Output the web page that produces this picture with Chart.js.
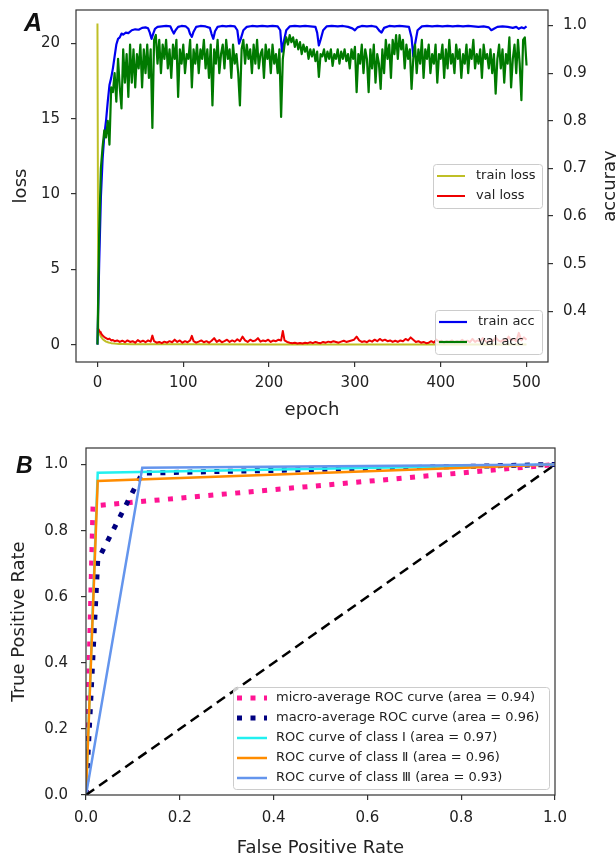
<!DOCTYPE html>
<html><head><meta charset="utf-8">
<script src="https://cdn.jsdelivr.net/npm/chart.js@4.4.1/dist/chart.umd.min.js"></script>
<style>
html,body{margin:0;padding:0;background:#fff;width:616px;height:857px;overflow:hidden}
#wa{position:absolute;left:0;top:0;width:616px;height:430px}
#wb{position:absolute;left:0;top:430px;width:616px;height:427px}
canvas{display:block}
</style></head><body>
<div id="wa"><canvas id="ca" width="616" height="430" style="width:616px;height:430px"></canvas></div>
<div id="wb"><canvas id="cb" width="616" height="427" style="width:616px;height:427px"></canvas></div>
<script>
// ---------------- Panel A data ----------------
const epochTicks = [0, 100, 200, 300, 400, 500];
const lossTicks = [0, 5, 10, 15, 20];
const accTicks = [0.4, 0.5, 0.6, 0.7, 0.8, 0.9, 1.0];

const trainLossEpochs = [0, 1, 2, 4, 6, 8, 10, 13, 16, 20, 25, 30, 40, 60, 100, 200, 300, 400, 500];
const trainLoss = [21.3, 1.0, 0.8, 0.55, 0.4, 0.3, 0.22, 0.16, 0.12, 0.09, 0.07, 0.06, 0.05, 0.045, 0.04, 0.035, 0.03, 0.03, 0.03];

const valLossEpochs = [0,1,2,3,4,6,8,10,12,14,16,18,20,23,26,29,32,35,38,41,44,47,50,53,56,59,62,64,66,69,72,75,78,81,84,87,90,93,96,99,102,105,108,110,112,115,118,121,124,127,130,133,136,139,142,145,148,151,154,157,160,163,166,169,172,175,178,181,184,187,190,193,196,199,202,205,208,211,214,216,218,221,224,227,230,233,236,239,242,245,248,251,254,257,260,263,266,269,272,275,278,281,284,287,290,293,296,299,302,305,308,311,314,317,320,323,326,329,332,335,338,341,344,347,350,353,356,359,362,365,368,371,374,377,380,383,386,389,392,395,398,401,404,407,410,413,416,419,422,425,428,431,434,437,440,443,446,449,452,455,458,461,464,467,470,473,476,479,482,485,488,491,494,497,500];
const valLoss = [1.12,1.05,0.95,0.85,0.78,0.62,0.52,0.45,0.38,0.42,0.3,0.33,0.25,0.3,0.2,0.28,0.18,0.3,0.2,0.25,0.15,0.32,0.2,0.28,0.18,0.3,0.22,0.62,0.25,0.15,0.2,0.12,0.22,0.15,0.25,0.18,0.35,0.2,0.3,0.15,0.25,0.18,0.3,0.6,0.25,0.15,0.22,0.3,0.18,0.25,0.15,0.28,0.45,0.2,0.32,0.18,0.25,0.35,0.2,0.3,0.22,0.38,0.25,0.55,0.3,0.2,0.35,0.25,0.3,0.45,0.22,0.3,0.25,0.35,0.2,0.3,0.25,0.35,0.3,0.93,0.3,0.2,0.15,0.12,0.15,0.1,0.13,0.1,0.15,0.12,0.18,0.12,0.2,0.15,0.12,0.2,0.15,0.22,0.18,0.25,0.2,0.15,0.22,0.28,0.2,0.25,0.3,0.35,0.55,0.3,0.2,0.25,0.18,0.3,0.22,0.35,0.25,0.4,0.28,0.35,0.25,0.3,0.2,0.28,0.2,0.3,0.25,0.4,0.3,0.5,0.35,0.2,0.25,0.15,0.2,0.12,0.15,0.25,0.15,0.35,0.2,0.28,0.15,0.25,0.2,0.3,0.18,0.25,0.2,0.35,0.2,0.28,0.18,0.4,0.2,0.3,0.22,0.45,0.25,0.2,0.35,0.25,0.5,0.3,0.22,0.35,0.25,0.55,0.3,0.4,0.25,0.8,0.3,0.5,0.35];

const trainAccEpochs = [0,2,4,6,8,10,12,14,16,18,20,22,24,26,28,30,33,36,40,44,48,52,56,59,61,63,65,67,70,75,80,85,87,89,91,94,98,103,106,108,110,112,115,120,126,131,133,135,137,140,145,150,155,160,163,165,167,170,174,180,186,192,198,204,210,213,215,217,220,224,230,236,242,248,254,256,258,260,263,267,273,280,286,292,297,300,303,308,314,320,325,329,331,334,340,346,352,358,363,366,368,370,373,378,384,390,396,402,408,414,420,426,432,438,444,450,456,459,462,466,472,478,484,488,491,494,497,500];
const trainAcc = [0.33,0.50,0.64,0.72,0.77,0.80,0.84,0.875,0.89,0.91,0.935,0.96,0.972,0.975,0.983,0.981,0.985,0.984,0.99,0.992,0.991,0.995,0.996,0.994,0.985,0.972,0.983,0.993,0.997,0.998,0.999,0.998,0.99,0.983,0.99,0.997,0.999,0.998,0.993,0.982,0.976,0.987,0.997,0.999,0.998,0.995,0.982,0.972,0.988,0.997,0.999,0.998,0.999,0.998,0.99,0.962,0.972,0.99,0.997,0.999,0.998,0.999,0.998,0.999,0.998,0.99,0.945,0.965,0.99,0.998,0.999,0.998,0.999,0.998,0.997,0.985,0.958,0.97,0.99,0.998,0.999,0.998,0.999,0.997,0.994,0.99,0.996,0.999,0.998,0.999,0.997,0.988,0.985,0.995,0.999,0.998,0.999,0.998,0.997,0.975,0.935,0.96,0.99,0.998,0.999,0.998,0.999,0.998,0.999,0.998,0.999,0.998,0.999,0.998,0.997,0.998,0.996,0.99,0.993,0.997,0.998,0.997,0.995,0.997,0.993,0.996,0.994,0.998];

// val acc, one value every 2 epochs (epoch 0 .. 500)
const valAcc = [
0.33,0.56,0.70,0.745,0.78,0.765,0.80,0.75,0.87,0.86,0.90,0.84,0.93,0.87,0.826,0.95,0.88,0.94,0.85,0.96,
0.88,0.95,0.87,0.94,0.91,0.96,0.87,0.95,0.90,0.96,0.89,0.95,0.785,0.97,0.98,0.92,0.97,0.90,0.96,0.93,
0.97,0.91,0.95,0.89,0.96,0.93,0.97,0.85,0.95,0.92,0.96,0.90,0.94,0.93,0.97,0.87,0.95,0.92,0.96,0.90,
0.95,0.93,0.97,0.91,0.95,0.89,0.96,0.832,0.95,0.92,0.97,0.90,0.94,0.96,0.91,0.97,0.93,0.95,0.89,0.96,
0.92,0.94,0.90,0.832,0.95,0.97,0.92,0.96,0.93,0.95,0.90,0.96,0.92,0.97,0.91,0.94,0.95,0.89,0.96,0.93,
0.95,0.90,0.96,0.92,0.94,0.90,0.95,0.808,0.93,0.96,0.975,0.96,0.98,0.965,0.975,0.955,0.97,0.95,0.965,0.94,
0.96,0.945,0.955,0.93,0.95,0.935,0.95,0.925,0.945,0.892,0.94,0.935,0.95,0.925,0.945,0.93,0.95,0.915,0.94,0.93,
0.95,0.92,0.945,0.93,0.95,0.925,0.94,0.91,0.95,0.93,0.955,0.86,0.94,0.92,0.96,0.90,0.95,0.93,0.86,0.95,
0.91,0.96,0.88,0.94,0.92,0.867,0.95,0.90,0.97,0.93,0.96,0.89,0.97,0.94,0.98,0.93,0.98,0.95,0.97,0.91,
0.96,0.93,0.95,0.867,0.93,0.96,0.90,0.95,0.92,0.97,0.89,0.95,0.93,0.96,0.90,0.94,0.92,0.96,0.88,0.94,
0.93,0.96,0.89,0.95,0.91,0.97,0.92,0.94,0.90,0.96,0.93,0.95,0.89,0.94,0.92,0.96,0.90,0.95,0.93,0.97,
0.91,0.94,0.92,0.95,0.89,0.96,0.93,0.94,0.91,0.95,0.90,0.94,0.857,0.93,0.96,0.91,0.95,0.88,0.94,0.92,
0.975,0.87,0.93,0.96,0.90,0.97,0.92,0.843,0.97,0.975,0.916];
const valAccEpochs = valAcc.map((_, i) => i * 2);

// ---------------- Panel B data ----------------
const rateTicks = [0, 0.2, 0.4, 0.6, 0.8, 1.0];
const microFpr = [0, 0.015, 1];
const microTpr = [0, 0.875, 1];
const macroFpr = [0, 0.025, 0.12, 1];
const macroTpr = [0, 0.71, 0.974, 1];
const class1Fpr = [0, 0.025, 1];
const class1Tpr = [0, 0.975, 1];
const class2Fpr = [0, 0.025, 1];
const class2Tpr = [0, 0.95, 1];
const class3Fpr = [0, 0.12, 1];
const class3Tpr = [0, 0.99, 1];
const chanceFpr = [0, 1];
const chanceTpr = [0, 1];

// ---------------- helpers ----------------
const FONT = "'DejaVu Sans', 'Noto Sans CJK SC', sans-serif";
Chart.defaults.font.family = FONT;
Chart.defaults.color = '#222';
const pts = (xs, ys) => xs.map((x, i) => ({x: x, y: ys[i]}));
const setTicks = vals => (s => { s.ticks = vals.map(v => ({value: v})); });
const fitY = w => (s => { s.width = w; s.paddingTop = 0; s.paddingBottom = 0; });
const fitX = h => (s => { s.height = h; s.paddingLeft = 0; s.paddingRight = 0; });

function drawLegend(ctx, x, y, w, h, rows, lineX0, lineX1, textX) {
  ctx.save();
  ctx.beginPath();
  if (ctx.roundRect) ctx.roundRect(x + 0.5, y + 0.5, w, h, 3); else ctx.rect(x + 0.5, y + 0.5, w, h);
  ctx.fillStyle = 'rgba(255,255,255,0.8)';
  ctx.fill();
  ctx.strokeStyle = '#cccccc';
  ctx.lineWidth = 1;
  ctx.stroke();
  rows.forEach(r => {
    ctx.beginPath();
    ctx.setLineDash(r.dash || []);
    ctx.lineCap = 'butt';
    ctx.strokeStyle = r.color;
    ctx.lineWidth = r.width;
    ctx.moveTo(x + lineX0, r.y);
    ctx.lineTo(x + lineX1, r.y);
    ctx.stroke();
    ctx.setLineDash([]);
    ctx.fillStyle = '#222';
    ctx.font = '13px ' + FONT;
    ctx.textAlign = 'left';
    ctx.textBaseline = 'middle';
    ctx.fillText(r.label, x + textX, r.y);
  });
  ctx.restore();
}
function frame(chart) {
  const {ctx, chartArea: ca} = chart;
  ctx.save();
  ctx.strokeStyle = '#333';
  ctx.lineWidth = 1.2;
  ctx.strokeRect(ca.left, ca.top, ca.right - ca.left, ca.bottom - ca.top);
  ctx.restore();
}
function rowsFor(chart, labels, y0, dy) {
  return labels.map((lab, i) => {
    const ds = chart.data.datasets.find(d => d.label === lab);
    return {label: lab, color: ds.borderColor, width: ds.borderWidth, dash: ds.borderDash, y: y0 + i * dy};
  });
}

const axisCommon = {
  grid: {display: true, drawOnChartArea: false, drawTicks: true, tickLength: 5, color: '#333', lineWidth: 1.2},
  border: {display: false}
};

// ---------------- Chart A ----------------
const pluginA = {
  id: 'pluginA',
  afterDatasetsDraw(chart) {
    const ca = chart.chartArea;
    const ctx = chart.ctx;
    const w1 = 109, h1 = 44;
    const x1 = ca.right - 6 - w1, y1 = (ca.top + ca.bottom) / 2 - h1 / 2;
    drawLegend(ctx, x1, y1, w1, h1, rowsFor(chart, ['train loss', 'val loss'], y1 + 12, 20), 4, 32, 43);
    const w2 = 107, h2 = 44;
    const x2 = ca.right - 6 - w2, y2 = ca.bottom - 8 - h2;
    drawLegend(ctx, x2, y2, w2, h2, rowsFor(chart, ['train acc', 'val acc'], y2 + 12, 20), 4, 32, 43);
  },
  afterDraw(chart) {
    frame(chart);
    const ctx = chart.ctx;
    ctx.save();
    ctx.fillStyle = '#111';
    ctx.font = "bold italic 25px 'Liberation Sans', Arial, sans-serif";
    ctx.textBaseline = 'alphabetic';
    ctx.textAlign = 'left';
    ctx.fillText('A', 24, 31);
    ctx.translate(615, (chart.chartArea.top + chart.chartArea.bottom) / 2);
    ctx.rotate(-Math.PI / 2);
    ctx.font = '18px ' + FONT;
    ctx.fillStyle = '#222';
    ctx.textAlign = 'center';
    ctx.fillText('accuray', 0, 0);
    ctx.restore();
  }
};

new Chart(document.getElementById('ca'), {
  type: 'line',
  data: {
    datasets: [
      {label: 'train loss', data: pts(trainLossEpochs, trainLoss), yAxisID: 'y', borderColor: '#bfbf26', borderWidth: 2, order: 4},
      {label: 'val loss', data: pts(valLossEpochs, valLoss), yAxisID: 'y', borderColor: '#ee0000', borderWidth: 2, order: 3},
      {label: 'train acc', data: pts(trainAccEpochs, trainAcc), yAxisID: 'y1', borderColor: '#0000f0', borderWidth: 2.2, order: 2},
      {label: 'val acc', data: pts(valAccEpochs, valAcc), yAxisID: 'y1', borderColor: '#007a00', borderWidth: 2.2, order: 1}
    ]
  },
  options: {
    responsive: false, animation: false, devicePixelRatio: 1,
    elements: {point: {radius: 0}, line: {tension: 0, borderJoinStyle: 'round'}},
    layout: {padding: {top: 10, left: 0, right: 0, bottom: 0}},
    plugins: {legend: {display: false}, tooltip: {enabled: false}},
    scales: {
      x: Object.assign({}, axisCommon, {
        type: 'linear', min: -25, max: 525,
        afterBuildTicks: setTicks(epochTicks),
        afterFit: fitX(68),
        ticks: {font: {size: 15}, color: '#222', padding: 7, maxRotation: 0, autoSkip: false},
        title: {display: true, text: 'epoch', font: {size: 18}, color: '#222', padding: {top: 0, bottom: 9}}
      }),
      y: Object.assign({}, axisCommon, {
        type: 'linear', position: 'left', min: -1.13, max: 22.2,
        afterBuildTicks: setTicks(lossTicks),
        afterFit: fitY(76),
        ticks: {font: {size: 15}, color: '#222', padding: 11, autoSkip: false},
        title: {display: true, text: 'loss', font: {size: 18}, color: '#222', padding: {top: 11, bottom: 0}}
      }),
      y1: Object.assign({}, axisCommon, {
        type: 'linear', position: 'right', min: 0.2935, max: 1.0325,
        afterBuildTicks: setTicks(accTicks),
        afterFit: fitY(68),
        ticks: {font: {size: 15}, color: '#222', padding: 10, autoSkip: false, callback: v => v.toFixed(1)}
      })
    }
  },
  plugins: [pluginA]
});

// ---------------- Chart B ----------------
const pluginB = {
  id: 'pluginB',
  afterDatasetsDraw(chart) {
    const ca = chart.chartArea;
    const w = 316, h = 102;
    const x = ca.right - 6 - w, y = ca.bottom - 6 - h;
    const labels = chart.data.datasets.filter(d => d.inLegend).map(d => d.label);
    drawLegend(chart.ctx, x, y, w, h, rowsFor(chart, labels, y + 11, 20), 4, 34, 43);
  },
  afterDraw(chart) {
    frame(chart);
    const ctx = chart.ctx;
    ctx.save();
    ctx.fillStyle = '#111';
    ctx.font = "bold italic 23px 'Liberation Sans', Arial, sans-serif";
    ctx.textBaseline = 'alphabetic';
    ctx.textAlign = 'left';
    ctx.fillText('B', 16, 43);
    ctx.restore();
  }
};

new Chart(document.getElementById('cb'), {
  type: 'line',
  data: {
    datasets: [
      {label: 'micro-average ROC curve (area = 0.94)', data: pts(microFpr, microTpr), borderColor: '#ff1493', borderWidth: 5, borderDash: [5, 8.5], borderCapStyle: 'butt', order: 6, inLegend: true},
      {label: 'macro-average ROC curve (area = 0.96)', data: pts(macroFpr, macroTpr), borderColor: '#000080', borderWidth: 5, borderDash: [5, 8.5], borderCapStyle: 'butt', order: 5, inLegend: true},
      {label: 'ROC curve of class Ⅰ (area = 0.97)', data: pts(class1Fpr, class1Tpr), borderColor: '#22f0f0', borderWidth: 2.5, order: 4, inLegend: true},
      {label: 'ROC curve of class Ⅱ (area = 0.96)', data: pts(class2Fpr, class2Tpr), borderColor: '#ff8c00', borderWidth: 2.5, order: 3, inLegend: true},
      {label: 'ROC curve of class Ⅲ (area = 0.93)', data: pts(class3Fpr, class3Tpr), borderColor: '#6495ed', borderWidth: 2.5, order: 2, inLegend: true},
      {label: 'chance', data: pts(chanceFpr, chanceTpr), borderColor: '#000000', borderWidth: 2.5, borderDash: [10, 6], order: 1, inLegend: false}
    ]
  },
  options: {
    responsive: false, animation: false, devicePixelRatio: 1,
    elements: {point: {radius: 0}, line: {tension: 0}},
    layout: {padding: {top: 18, left: 0, right: 61, bottom: 0}},
    plugins: {legend: {display: false}, tooltip: {enabled: false}},
    scales: {
      x: Object.assign({}, axisCommon, {
        type: 'linear', min: 0, max: 1,
        afterBuildTicks: setTicks(rateTicks),
        afterFit: fitX(62),
        ticks: {font: {size: 15}, color: '#222', padding: 9, maxRotation: 0, autoSkip: false, callback: v => v.toFixed(1)},
        title: {display: true, text: 'False Positive Rate', font: {size: 18, lineHeight: 1}, color: '#222', padding: {top: 0, bottom: 0}}
      }),
      y: Object.assign({}, axisCommon, {
        type: 'linear', position: 'left', min: 0, max: 1.05,
        afterBuildTicks: setTicks(rateTicks),
        afterFit: fitY(86),
        ticks: {font: {size: 15}, color: '#222', padding: 13, autoSkip: false, callback: v => v.toFixed(1)},
        title: {display: true, text: 'True Positive Rate', font: {size: 18}, color: '#222', padding: {top: 9, bottom: 0}}
      })
    }
  },
  plugins: [pluginB]
});
</script>
</body></html>
